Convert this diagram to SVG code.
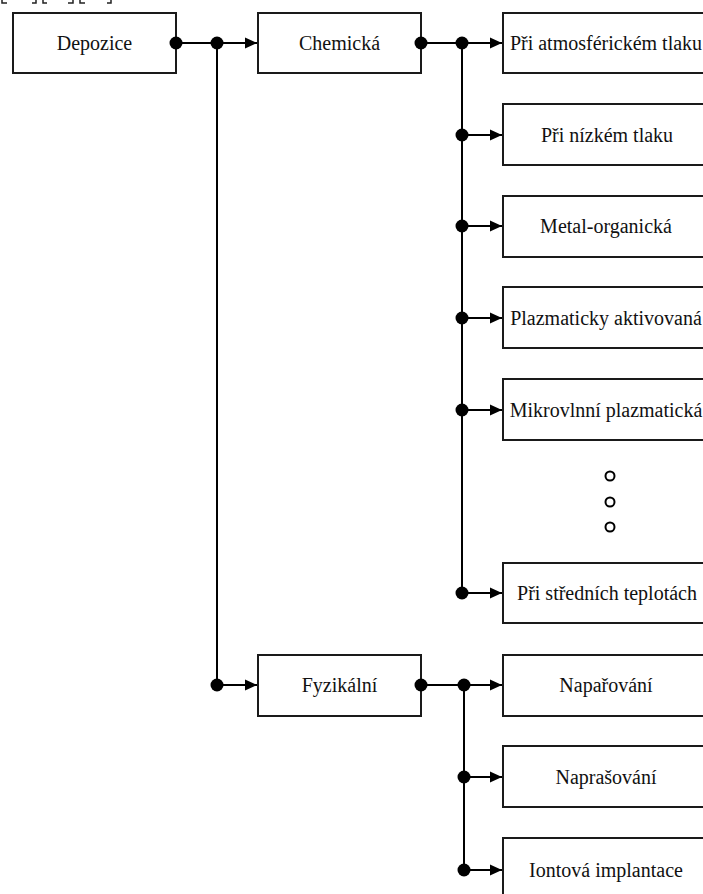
<svg xmlns="http://www.w3.org/2000/svg" width="703" height="894" viewBox="0 0 703 894">
<style>
.box{fill:#fff;stroke:#1a1a1a;stroke-width:2}
.lbl{font-family:"Liberation Serif","Times New Roman",serif;font-size:20px;fill:#111;text-anchor:middle}
.ln{stroke:#000;stroke-width:2;fill:none}
.dot{fill:#000}
.hol{fill:#fff;stroke:#000;stroke-width:2}
.mk{stroke:#222;stroke-width:1.5;fill:none}
</style>
<defs>
<marker id="arr" markerUnits="userSpaceOnUse" markerWidth="13" markerHeight="12" refX="12" refY="6" orient="auto">
<path d="M0,0.5 L12,6 L0,11.5 Z" fill="#000"/>
</marker>
</defs>
<rect width="703" height="894" fill="#fff"/>
<g id="marks">
<path class="mk" d="M2,0 V3 H7 M32,3 H36 V0 M43,0 V3 H47 M68,3 H73 V0 M80,0 V3 H85 M107,3 H111 V0"/>
</g>
<g id="n-depozice"><rect class="box" x="13" y="13" width="163" height="60"/><text class="lbl" x="94.5" y="50">Depozice</text></g>
<g id="n-chemicka"><rect class="box" x="258" y="13" width="163" height="60"/><text class="lbl" x="339.5" y="50">Chemická</text></g>
<g id="n-fyzikalni"><rect class="box" x="258" y="655" width="163" height="61"/><text class="lbl" x="339.5" y="692">Fyzikální</text></g>
<g id="n-atm"><rect class="box" x="503" y="13" width="210" height="60"/><text class="lbl" x="606" y="50">Při atmosférickém tlaku</text></g>
<g id="n-nizky"><rect class="box" x="503" y="104" width="210" height="61"/><text class="lbl" x="607" y="142">Při nízkém tlaku</text></g>
<g id="n-metal"><rect class="box" x="503" y="196" width="210" height="61"/><text class="lbl" x="606" y="233">Metal-organická</text></g>
<g id="n-plazma"><rect class="box" x="503" y="287" width="210" height="61"/><text class="lbl" x="606" y="325">Plazmaticky aktivovaná</text></g>
<g id="n-mikro"><rect class="box" x="503" y="379" width="210" height="61"/><text class="lbl" x="606" y="417">Mikrovlnní plazmatická</text></g>
<g id="n-stredni"><rect class="box" x="503" y="563" width="210" height="60"/><text class="lbl" x="607" y="600">Při středních teplotách</text></g>
<g id="n-naparovani"><rect class="box" x="503" y="655" width="210" height="61"/><text class="lbl" x="606" y="692">Napařování</text></g>
<g id="n-naprasovani"><rect class="box" x="503" y="746" width="210" height="61"/><text class="lbl" x="606" y="784">Naprašování</text></g>
<g id="n-iontova"><rect class="box" x="503" y="838" width="210" height="61"/><text class="lbl" x="606" y="877">Iontová implantace</text></g>
<g id="ellipsis">
<circle class="hol" cx="610" cy="476" r="4.5"/>
<circle class="hol" cx="610" cy="502" r="4.5"/>
<circle class="hol" cx="610" cy="527" r="4.5"/>
</g>
<g id="connectors">
<path class="ln" d="M176,43 H217 V685"/>
<path class="ln" d="M217,43 H257" marker-end="url(#arr)"/>
<path class="ln" d="M217,685 H257" marker-end="url(#arr)"/>
<path class="ln" d="M421,43 H462 V593"/>
<path class="ln" d="M462,43 H502" marker-end="url(#arr)"/>
<path class="ln" d="M462,135 H502" marker-end="url(#arr)"/>
<path class="ln" d="M462,226 H502" marker-end="url(#arr)"/>
<path class="ln" d="M462,318 H502" marker-end="url(#arr)"/>
<path class="ln" d="M462,410 H502" marker-end="url(#arr)"/>
<path class="ln" d="M462,593 H502" marker-end="url(#arr)"/>
<path class="ln" d="M421,685 H464 V870"/>
<path class="ln" d="M464,685 H502" marker-end="url(#arr)"/>
<path class="ln" d="M464,777 H502" marker-end="url(#arr)"/>
<path class="ln" d="M464,870 H502" marker-end="url(#arr)"/>
<circle class="dot" cx="176" cy="43" r="6.5"/>
<circle class="dot" cx="217" cy="43" r="6.5"/>
<circle class="dot" cx="217" cy="685" r="6.5"/>
<circle class="dot" cx="421" cy="43" r="6.5"/>
<circle class="dot" cx="462" cy="43" r="6.5"/>
<circle class="dot" cx="462" cy="135" r="6.5"/>
<circle class="dot" cx="462" cy="226" r="6.5"/>
<circle class="dot" cx="462" cy="318" r="6.5"/>
<circle class="dot" cx="462" cy="410" r="6.5"/>
<circle class="dot" cx="462" cy="593" r="6.5"/>
<circle class="dot" cx="421" cy="685" r="6.5"/>
<circle class="dot" cx="464" cy="685" r="6.5"/>
<circle class="dot" cx="464" cy="777" r="6.5"/>
<circle class="dot" cx="464" cy="870" r="6.5"/>
</g>
</svg>
